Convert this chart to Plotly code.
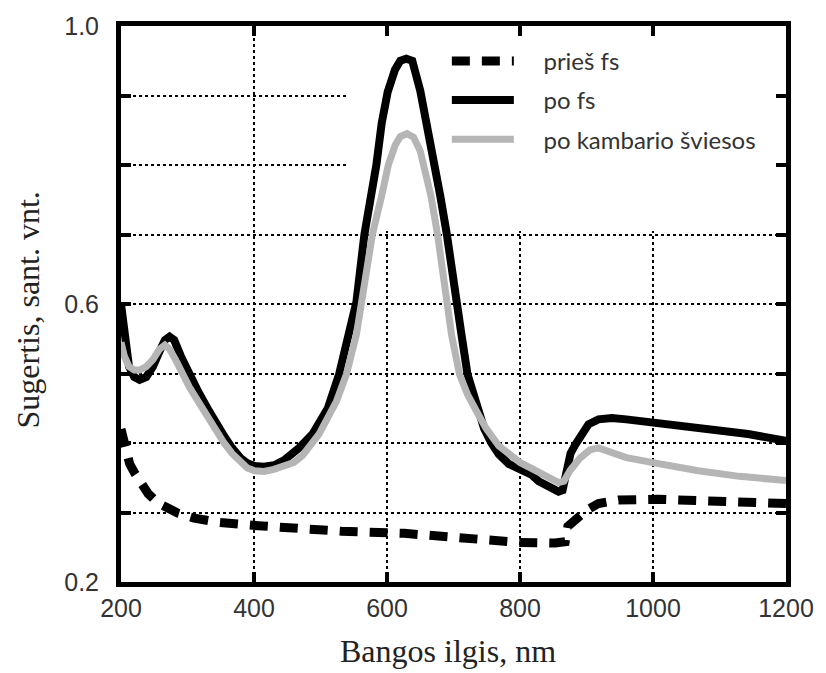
import plotly.graph_objects as go

# Absorption spectra: wavelength (nm) and absorbance (arb. units)
x_pries = [200, 206, 213, 221, 231, 241, 255, 270, 286, 310, 346, 406, 476, 532,
           626, 680, 743, 798, 853, 868, 872, 885, 900, 918, 948, 1008, 1068, 1120, 1200]
y_pries = [0.42, 0.389, 0.37, 0.356, 0.34, 0.327, 0.314, 0.305, 0.299, 0.292, 0.286,
           0.281, 0.275, 0.273, 0.27, 0.266, 0.26, 0.257, 0.256, 0.258, 0.28, 0.292,
           0.303, 0.313, 0.318, 0.319, 0.318, 0.316, 0.313]

x_pofs = [200, 203, 207, 212, 220, 228, 238, 248, 258, 266, 273, 280, 290, 303, 316,
          330, 341, 355, 367, 380, 390, 401, 415, 430, 445, 458, 468, 488, 511, 528,
          543, 554, 566, 576, 584, 592, 601, 612, 620, 629, 638, 650, 665, 680, 690,
          703, 712, 721, 731, 746, 757, 768, 783, 798, 818, 828, 843, 858, 864, 870,
          876, 884, 893, 903, 918, 938, 960, 1004, 1068, 1143, 1200]
y_pofs = [0.60, 0.57, 0.535, 0.51, 0.495, 0.491, 0.495, 0.51, 0.532, 0.548, 0.553,
          0.548, 0.525, 0.497, 0.474, 0.45, 0.431, 0.41, 0.393, 0.378, 0.371, 0.367,
          0.366, 0.368, 0.375, 0.385, 0.393, 0.413, 0.45, 0.499, 0.556, 0.603, 0.70,
          0.75, 0.80, 0.86, 0.905, 0.937, 0.95, 0.953, 0.95, 0.907, 0.836, 0.756, 0.70,
          0.603, 0.556, 0.499, 0.47, 0.421, 0.40, 0.384, 0.37, 0.362, 0.354, 0.345,
          0.336, 0.330, 0.332, 0.36, 0.385, 0.399, 0.415, 0.427, 0.434, 0.436, 0.434,
          0.429, 0.421, 0.413, 0.403]

x_kamb = [200, 205, 212, 220, 228, 238, 248, 258, 266, 273, 282, 292, 303, 316, 330,
          341, 355, 367, 380, 390, 401, 415, 430, 445, 460, 473, 498, 524, 539, 554,
          561, 570, 578, 592, 602, 612, 620, 630, 640, 650, 666, 676, 689, 697, 709,
          721, 735, 749, 768, 788, 800, 820, 840, 858, 866, 875, 890, 905, 918, 935,
          960, 1004, 1068, 1130, 1200]
y_kamb = [0.545, 0.525, 0.51, 0.505, 0.505, 0.51, 0.52, 0.535, 0.541, 0.535, 0.52,
          0.50, 0.48, 0.46, 0.438, 0.42, 0.40, 0.385, 0.372, 0.364, 0.360, 0.359,
          0.362, 0.368, 0.372, 0.382, 0.413, 0.46, 0.499, 0.556, 0.60, 0.65, 0.70,
          0.756, 0.80, 0.828, 0.841, 0.845, 0.84, 0.82, 0.756, 0.70, 0.603, 0.556,
          0.499, 0.47, 0.445, 0.421, 0.396, 0.38, 0.372, 0.362, 0.352, 0.343, 0.345,
          0.36, 0.378, 0.39, 0.393, 0.388, 0.379, 0.371, 0.36, 0.352, 0.346]

x_ticks = [200, 400, 600, 800, 1000, 1200]
y_ticks = [0.2, 0.3, 0.4, 0.5, 0.6, 0.7, 0.8, 0.9, 1.0]
y_ticktext = ["0.2", "", "", "", "0.6", "", "", "", "1.0"]

# small gap between legend symbol and its label
pad = "\u00a0\u00a0\u00a0\u00a0"

fig = go.Figure()
fig.add_trace(go.Scatter(x=x_pries, y=y_pries, mode="lines", name=pad + "prieš fs",
                         legendgroup="a",
                         line=dict(color="black", width=9, dash="18px,12px")))
fig.add_trace(go.Scatter(x=x_pofs, y=y_pofs, mode="lines", name=pad + "po fs",
                         legendgroup="b",
                         line=dict(color="black", width=8)))
fig.add_trace(go.Scatter(x=x_kamb, y=y_kamb, mode="lines",
                         name=pad + "po kambario šviesos",
                         legendgroup="c",
                         line=dict(color="#b5b5b5", width=7)))

axis_common = dict(
    showline=True, linecolor="black", linewidth=5, mirror="ticks",
    ticks="inside", ticklen=10, tickwidth=4, tickcolor="black",
    showgrid=True, gridcolor="black", gridwidth=2, griddash="3px,3px",
    zeroline=False,
    tickfont=dict(family="Liberation Sans, Arial, sans-serif", size=25, color="#333"),
)

fig.update_xaxes(range=[200, 1200], tickvals=x_ticks, ticklabelstandoff=0, **axis_common)
fig.update_yaxes(range=[0.2, 1.0], tickvals=y_ticks, ticktext=y_ticktext,
                 ticklabelstandoff=12, **axis_common)

# white panel behind the legend hides the grid there
fig.add_shape(type="rect", xref="x", yref="y", x0=540, x1=1200, y0=0.705, y1=1.0,
              fillcolor="white", line=dict(width=0), layer="between")

fig.add_annotation(text="Sugertis, sant. vnt.", xref="paper", yref="paper",
                   x=-0.14, y=0.49, xanchor="center", yanchor="middle",
                   textangle=-90, showarrow=False,
                   font=dict(family="Liberation Serif, Times New Roman, serif",
                             size=32, color="#222"))
fig.add_annotation(text="Bangos ilgis, nm", xref="paper", yref="paper",
                   x=0.492, y=-0.1237, xanchor="center", yanchor="middle",
                   showarrow=False,
                   font=dict(family="Liberation Serif, Times New Roman, serif",
                             size=32, color="#222"))

fig.update_layout(
    width=826, height=673,
    margin=dict(l=121, r=39, t=23, b=91),
    paper_bgcolor="white", plot_bgcolor="white",
    showlegend=True,
    legend=dict(x=0.49, y=0.977, xanchor="left", yanchor="top",
                bgcolor="rgba(0,0,0,0)", borderwidth=0,
                itemwidth=62, tracegroupgap=5, traceorder="grouped",
                font=dict(family="Lato, sans-serif", size=24, color="#333")),
)

fig.write_html("out.html")
